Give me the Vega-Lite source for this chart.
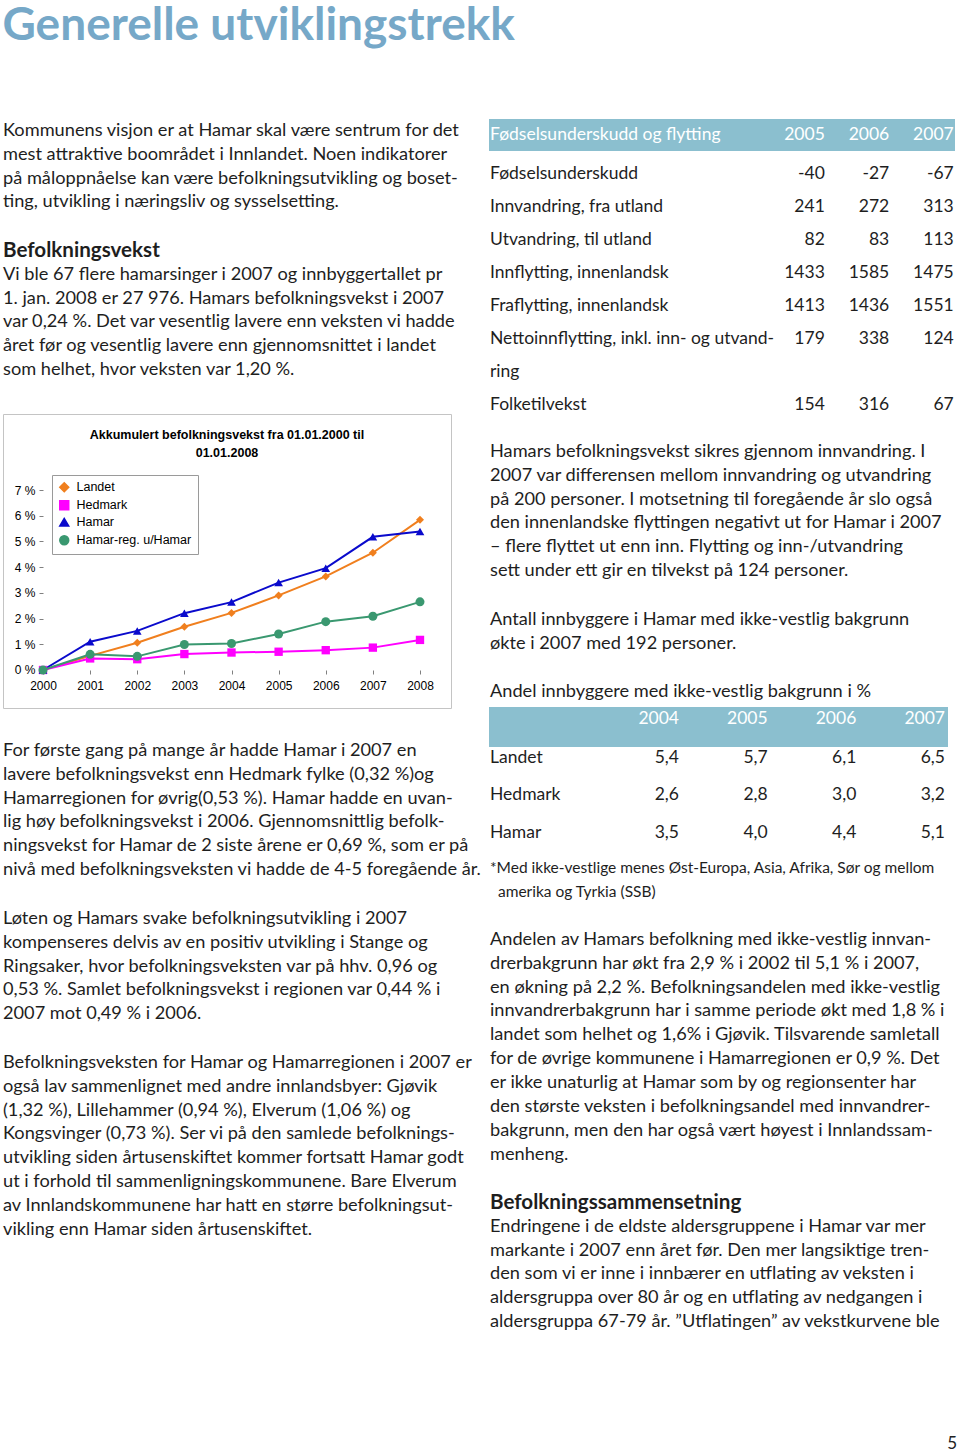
{
"$schema": "https://vega.github.io/schema/vega-lite/v6.json",
"padding": {"left": 2, "top": 3, "right": 0, "bottom": 0},
"background": "white",
"config": {
  "view": {"stroke": null},
  "text": {"font": "Lato", "fontSize": 18.2, "color": "#1E1E1E", "baseline": "middle", "align": "left"},
  "locale": {"number": {"decimal": ",", "thousands": " ", "grouping": [3], "currency": ["", " kr"], "minus": "-"}},
  "title": {"font": "Lato", "color": "#222222"}
},
"datasets": {
  "series": [
    {"year": 2000, "series": "Landet", "value": 0}, {"year": 2001, "series": "Landet", "value": 0.55}, {"year": 2002, "series": "Landet", "value": 1.06}, {"year": 2003, "series": "Landet", "value": 1.68}, {"year": 2004, "series": "Landet", "value": 2.22}, {"year": 2005, "series": "Landet", "value": 2.9}, {"year": 2006, "series": "Landet", "value": 3.64}, {"year": 2007, "series": "Landet", "value": 4.56}, {"year": 2008, "series": "Landet", "value": 5.84},
    {"year": 2000, "series": "Hedmark", "value": 0}, {"year": 2001, "series": "Hedmark", "value": 0.45}, {"year": 2002, "series": "Hedmark", "value": 0.42}, {"year": 2003, "series": "Hedmark", "value": 0.62}, {"year": 2004, "series": "Hedmark", "value": 0.68}, {"year": 2005, "series": "Hedmark", "value": 0.71}, {"year": 2006, "series": "Hedmark", "value": 0.77}, {"year": 2007, "series": "Hedmark", "value": 0.87}, {"year": 2008, "series": "Hedmark", "value": 1.17},
    {"year": 2000, "series": "Hamar", "value": 0}, {"year": 2001, "series": "Hamar", "value": 1.1}, {"year": 2002, "series": "Hamar", "value": 1.52}, {"year": 2003, "series": "Hamar", "value": 2.21}, {"year": 2004, "series": "Hamar", "value": 2.64}, {"year": 2005, "series": "Hamar", "value": 3.4}, {"year": 2006, "series": "Hamar", "value": 3.96}, {"year": 2007, "series": "Hamar", "value": 5.18}, {"year": 2008, "series": "Hamar", "value": 5.39},
    {"year": 2000, "series": "Hamar-reg. u/Hamar", "value": 0}, {"year": 2001, "series": "Hamar-reg. u/Hamar", "value": 0.61}, {"year": 2002, "series": "Hamar-reg. u/Hamar", "value": 0.53}, {"year": 2003, "series": "Hamar-reg. u/Hamar", "value": 0.99}, {"year": 2004, "series": "Hamar-reg. u/Hamar", "value": 1.03}, {"year": 2005, "series": "Hamar-reg. u/Hamar", "value": 1.4}, {"year": 2006, "series": "Hamar-reg. u/Hamar", "value": 1.88}, {"year": 2007, "series": "Hamar-reg. u/Hamar", "value": 2.09}, {"year": 2008, "series": "Hamar-reg. u/Hamar", "value": 2.65}
  ],
  "t1labels": [
    {"i": 0, "t": "Fødselsunderskudd"}, {"i": 1, "t": "Innvandring, fra utland"}, {"i": 2, "t": "Utvandring, til utland"}, {"i": 3, "t": "Innflytting, innenlandsk"}, {"i": 4, "t": "Fraflytting, innenlandsk"}, {"i": 5, "t": "Nettoinnflytting, inkl. inn- og utvand-"}, {"i": 6, "t": "ring"}, {"i": 7, "t": "Folketilvekst"}
  ],
  "t1values": [
    {"i": 0, "year": 2005, "v": -40}, {"i": 0, "year": 2006, "v": -27}, {"i": 0, "year": 2007, "v": -67},
    {"i": 1, "year": 2005, "v": 241}, {"i": 1, "year": 2006, "v": 272}, {"i": 1, "year": 2007, "v": 313},
    {"i": 2, "year": 2005, "v": 82}, {"i": 2, "year": 2006, "v": 83}, {"i": 2, "year": 2007, "v": 113},
    {"i": 3, "year": 2005, "v": 1433}, {"i": 3, "year": 2006, "v": 1585}, {"i": 3, "year": 2007, "v": 1475},
    {"i": 4, "year": 2005, "v": 1413}, {"i": 4, "year": 2006, "v": 1436}, {"i": 4, "year": 2007, "v": 1551},
    {"i": 5, "year": 2005, "v": 179}, {"i": 5, "year": 2006, "v": 338}, {"i": 5, "year": 2007, "v": 124},
    {"i": 7, "year": 2005, "v": 154}, {"i": 7, "year": 2006, "v": 316}, {"i": 7, "year": 2007, "v": 67}
  ],
  "t2labels": [{"i": 0, "t": "Landet"}, {"i": 1, "t": "Hedmark"}, {"i": 2, "t": "Hamar"}],
  "t2values": [
    {"i": 0, "year": 2004, "v": 5.4}, {"i": 0, "year": 2005, "v": 5.7}, {"i": 0, "year": 2006, "v": 6.1}, {"i": 0, "year": 2007, "v": 6.5},
    {"i": 1, "year": 2004, "v": 2.6}, {"i": 1, "year": 2005, "v": 2.8}, {"i": 1, "year": 2006, "v": 3.0}, {"i": 1, "year": 2007, "v": 3.2},
    {"i": 2, "year": 2004, "v": 3.5}, {"i": 2, "year": 2005, "v": 4.0}, {"i": 2, "year": 2006, "v": 4.4}, {"i": 2, "year": 2007, "v": 5.1}
  ]
},
"title": {"text": "Generelle utviklingstrekk", "anchor": "start", "fontSize": 46, "font": "Lato", "fontWeight": "bold", "color": "#76A8C8", "baseline": "top", "offset": 69},
"spacing": 7,
"hconcat": [
  {
    "spacing": 30,
    "resolve": {"legend": {"color": "independent", "shape": "independent"}},
    "vconcat": [
      {
        "spacing": 24,
        "vconcat": [
          {
            "width": 465, "height": 95.4,
            "data": {"values": [
              {"i": 0, "t": "Kommunens visjon er at Hamar skal være sentrum for det"},
              {"i": 1, "t": "mest attraktive boområdet i Innlandet. Noen indikatorer"},
              {"i": 2, "t": "på måloppnåelse kan være befolkningsutvikling og boset-"},
              {"i": 3, "t": "ting, utvikling i næringsliv og sysselsetting."}
            ]},
            "mark": {"type": "text"},
            "encoding": {"y": {"field": "i", "type": "ordinal", "axis": null}, "x": {"value": 0}, "text": {"field": "t"}}
          },
          {
            "width": 465, "height": 143.1,
            "layer": [
              {
                "data": {"values": [{"i": 0, "t": "Befolkningsvekst"}]},
                "mark": {"type": "text", "fontWeight": "bold", "fontSize": 20.6},
                "encoding": {"y": {"field": "i", "type": "ordinal", "axis": null}, "x": {"value": 0}, "text": {"field": "t"}}
              },
              {
                "data": {"values": [
                  {"i": 1, "t": "Vi ble 67 flere hamarsinger i 2007 og innbyggertallet pr"},
                  {"i": 2, "t": "1. jan. 2008 er 27 976. Hamars befolkningsvekst i 2007"},
                  {"i": 3, "t": "var 0,24 %. Det var vesentlig lavere enn veksten vi hadde"},
                  {"i": 4, "t": "året før og vesentlig lavere enn gjennomsnittet i landet"},
                  {"i": 5, "t": "som helhet, hvor veksten var 1,20 %."}
                ]},
                "mark": {"type": "text"},
                "encoding": {"y": {"field": "i", "type": "ordinal", "axis": null}, "x": {"value": 0}, "text": {"field": "t"}}
              }
            ]
          }
        ]
      },
      {
        "width": 448, "height": 294,
        "view": {"stroke": "#C4C4C4", "fill": "white"},
        "title": {"text": ["Akkumulert befolkningsvekst fra 01.01.2000 til", "01.01.2008"], "font": "Liberation Sans", "fontSize": 12.5, "fontWeight": "bold", "color": "#000000", "anchor": "middle", "offset": -45, "lineHeight": 18},
        "data": {"name": "series"},
        "encoding": {
          "x": {"field": "year", "type": "quantitative", "scale": {"domain": [1999.151, 2008.658], "nice": false, "zero": false},
                "axis": {"values": [2000, 2001, 2002, 2003, 2004, 2005, 2006, 2007, 2008], "format": "d", "offset": -38, "domain": false, "grid": false, "ticks": true, "tickSize": 4, "tickColor": "#808080", "labelFont": "Liberation Sans", "labelFontSize": 12, "labelColor": "#000000", "labelPadding": 6, "title": null, "labelFlush": false, "labelOverlap": false}},
          "y": {"field": "value", "type": "quantitative", "scale": {"domain": [-1.478, 9.956], "nice": false, "zero": false},
                "axis": {"values": [0, 1, 2, 3, 4, 5, 6, 7], "labelExpr": "datum.value + ' %'", "offset": -40, "domain": false, "grid": false, "ticks": true, "tickSize": 4, "tickColor": "#808080", "labelFont": "Liberation Sans", "labelFontSize": 12, "labelColor": "#000000", "labelPadding": 4, "title": null, "labelFlush": false, "labelOverlap": false}},
          "color": {"field": "series", "type": "nominal", "scale": {"domain": ["Landet", "Hedmark", "Hamar", "Hamar-reg. u/Hamar"], "range": ["#F07F1E", "#FF00FF", "#0A0ACC", "#3A9870"]},
            "legend": {"orient": "none", "legendX": 49, "legendY": 61, "title": null, "fillColor": "white", "strokeColor": "#9A9A9A", "padding": 6, "labelFont": "Liberation Sans", "labelFontSize": 12.5, "labelColor": "#000000", "symbolSize": 80, "rowPadding": 2, "labelOffset": 6}}
        },
        "layer": [
          {
            "data": {"values": [{"g": 1}, {"g": 2}, {"g": 3}, {"g": 4}, {"g": 5}, {"g": 6}, {"g": 7}]},
            "mark": {"type": "rule", "strokeWidth": 1},
            "encoding": {"y": {"field": "g", "type": "quantitative"}, "x": {"datum": 2000}, "x2": {"datum": 2008}, "color": {"value": "#D6D6D6"}}
          },
          {
            "data": {"values": [{}]},
            "mark": {"type": "rule", "strokeWidth": 1},
            "encoding": {"x": {"datum": 2008}, "y": {"datum": 0}, "y2": {"datum": 7}, "color": {"value": "#B0B0B0"}}
          },
          {
            "data": {"values": [{}]},
            "mark": {"type": "rule", "strokeWidth": 1},
            "encoding": {"x": {"datum": 2000}, "y": {"datum": 0}, "y2": {"datum": 7}, "color": {"value": "#808080"}}
          },
          {
            "data": {"values": [{}]},
            "mark": {"type": "rule", "strokeWidth": 1},
            "encoding": {"y": {"datum": 0}, "x": {"datum": 2000}, "x2": {"datum": 2008}, "color": {"value": "#808080"}}
          },
          {
            "mark": {"type": "line"},
            "encoding": {
              "strokeWidth": {"field": "series", "type": "nominal", "scale": {"domain": ["Landet", "Hedmark", "Hamar", "Hamar-reg. u/Hamar"], "range": [2, 2, 3.8, 2]}, "legend": null}
            }
          },
          {
            "mark": {"type": "point", "filled": true, "opacity": 1},
            "encoding": {
              "shape": {"field": "series", "type": "nominal", "scale": {"domain": ["Landet", "Hedmark", "Hamar", "Hamar-reg. u/Hamar"], "range": ["diamond", "square", "triangle-up", "circle"]}, "legend": null},
              "size": {"field": "series", "type": "nominal", "scale": {"domain": ["Landet", "Hedmark", "Hamar", "Hamar-reg. u/Hamar"], "range": [64, 81, 150, 85]}, "legend": null}
            }
          }
        ]
      },
      {
        "spacing": 24,
        "vconcat": [
          {
            "width": 465, "height": 143.1,
            "data": {"values": [
              {"i": 0, "t": "For første gang på mange år hadde Hamar i 2007 en"},
              {"i": 1, "t": "lavere befolkningsvekst enn Hedmark fylke (0,32 %)og"},
              {"i": 2, "t": "Hamarregionen for øvrig(0,53 %). Hamar hadde en uvan-"},
              {"i": 3, "t": "lig høy befolkningsvekst i 2006. Gjennomsnittlig befolk-"},
              {"i": 4, "t": "ningsvekst for Hamar de 2 siste årene er 0,69 %, som er på"},
              {"i": 5, "t": "nivå med befolkningsveksten vi hadde de 4-5 foregående år."}
            ]},
            "mark": {"type": "text"},
            "encoding": {"y": {"field": "i", "type": "ordinal", "axis": null}, "x": {"value": 0}, "text": {"field": "t"}}
          },
          {
            "width": 465, "height": 119.25,
            "data": {"values": [
              {"i": 0, "t": "Løten og Hamars svake befolkningsutvikling i 2007"},
              {"i": 1, "t": "kompenseres delvis av en positiv utvikling i Stange og"},
              {"i": 2, "t": "Ringsaker, hvor befolkningsveksten var på hhv. 0,96 og"},
              {"i": 3, "t": "0,53 %. Samlet befolkningsvekst i regionen var 0,44 % i"},
              {"i": 4, "t": "2007 mot 0,49 % i 2006."}
            ]},
            "mark": {"type": "text"},
            "encoding": {"y": {"field": "i", "type": "ordinal", "axis": null}, "x": {"value": 0}, "text": {"field": "t"}}
          },
          {
            "width": 465, "height": 190.8,
            "data": {"values": [
              {"i": 0, "t": "Befolkningsveksten for Hamar og Hamarregionen i 2007 er"},
              {"i": 1, "t": "også lav sammenlignet med andre innlandsbyer: Gjøvik"},
              {"i": 2, "t": "(1,32 %), Lillehammer (0,94 %), Elverum (1,06 %) og"},
              {"i": 3, "t": "Kongsvinger (0,73 %). Ser vi på den samlede befolknings-"},
              {"i": 4, "t": "utvikling siden årtusenskiftet kommer fortsatt Hamar godt"},
              {"i": 5, "t": "ut i forhold til sammenligningskommunene. Bare Elverum"},
              {"i": 6, "t": "av Innlandskommunene har hatt en større befolkningsut-"},
              {"i": 7, "t": "vikling enn Hamar siden årtusenskiftet."}
            ]},
            "mark": {"type": "text"},
            "encoding": {"y": {"field": "i", "type": "ordinal", "axis": null}, "x": {"value": 0}, "text": {"field": "t"}}
          }
        ]
      }
    ]
  },
  {
    "spacing": 24,
    "title": {"text": "5", "orient": "bottom", "anchor": "end", "offset": 102, "fontSize": 17, "fontWeight": "normal", "font": "Lato", "color": "#222222"},
    "vconcat": [
      {
        "spacing": 3,
        "vconcat": [
          {
            "width": 466, "height": 32,
            "view": {"fill": "#8BBFCF", "stroke": null},
            "layer": [
              {
                "data": {"values": [{"t": "Fødselsunderskudd og flytting"}]},
                "mark": {"type": "text", "color": "white", "fontSize": 17.5},
                "encoding": {"x": {"value": 1}, "text": {"field": "t"}}
              },
              {
                "data": {"values": [{"year": 2005}, {"year": 2006}, {"year": 2007}]},
                "mark": {"type": "text", "color": "white", "align": "right", "fontSize": 17.5},
                "encoding": {"x": {"field": "year", "type": "quantitative", "scale": {"domain": [1999.79, 2007.02], "nice": false, "zero": false}, "axis": null}, "text": {"field": "year", "type": "quantitative", "format": "d"}}
              }
            ]
          },
          {
            "width": 466, "height": 262,
            "layer": [
              {
                "data": {"name": "t1labels"},
                "mark": {"type": "text", "fontSize": 17.5},
                "encoding": {"y": {"field": "i", "type": "ordinal", "axis": null, "scale": {"padding": 0.47, "align": 0.645}}, "x": {"value": 1}, "text": {"field": "t"}}
              },
              {
                "data": {"name": "t1values"},
                "mark": {"type": "text", "align": "right", "fontSize": 17.5},
                "encoding": {"y": {"field": "i", "type": "ordinal", "axis": null}, "x": {"field": "year", "type": "quantitative", "scale": {"domain": [1999.79, 2007.02], "nice": false, "zero": false}, "axis": null}, "text": {"field": "v", "type": "quantitative", "format": "d"}}
              }
            ]
          }
        ]
      },
      {
        "width": 468, "height": 143.1,
        "data": {"values": [
          {"i": 0, "t": "Hamars befolkningsvekst sikres gjennom innvandring. I"},
          {"i": 1, "t": "2007 var differensen mellom innvandring og utvandring"},
          {"i": 2, "t": "på 200 personer. I motsetning til foregående år slo også"},
          {"i": 3, "t": "den innenlandske flyttingen negativt ut for Hamar i 2007"},
          {"i": 4, "t": "– flere flyttet ut enn inn. Flytting og inn-/utvandring"},
          {"i": 5, "t": "sett under ett gir en tilvekst på 124 personer."}
        ]},
        "mark": {"type": "text"},
        "encoding": {"y": {"field": "i", "type": "ordinal", "axis": null}, "x": {"value": 1}, "text": {"field": "t"}}
      },
      {
        "width": 468, "height": 47.7,
        "data": {"values": [
          {"i": 0, "t": "Antall innbyggere i Hamar med ikke-vestlig bakgrunn"},
          {"i": 1, "t": "økte i 2007 med 192 personer."}
        ]},
        "mark": {"type": "text"},
        "encoding": {"y": {"field": "i", "type": "ordinal", "axis": null}, "x": {"value": 1}, "text": {"field": "t"}}
      },
      {
        "spacing": 0,
        "vconcat": [
          {
            "width": 459, "height": 27,
            "data": {"values": [{"i": 0, "t": "Andel innbyggere med ikke-vestlig bakgrunn i %"}]},
            "mark": {"type": "text"},
            "encoding": {"y": {"field": "i", "type": "ordinal", "axis": null, "scale": {"align": 0.444}}, "x": {"value": 1}, "text": {"field": "t"}}
          },
          {
            "width": 459, "height": 40,
            "view": {"fill": "#8BBFCF", "stroke": null},
            "data": {"values": [{"i": 0, "year": 2004}, {"i": 0, "year": 2005}, {"i": 0, "year": 2006}, {"i": 0, "year": 2007}]},
            "mark": {"type": "text", "color": "white", "align": "right", "fontSize": 17.5},
            "encoding": {"y": {"field": "i", "type": "ordinal", "axis": null, "scale": {"align": 0.3}}, "x": {"field": "year", "type": "quantitative", "scale": {"domain": [2001.857, 2007.034], "nice": false, "zero": false}, "axis": null}, "text": {"field": "year", "type": "quantitative", "format": "d"}}
          },
          {
            "width": 459, "height": 109,
            "layer": [
              {
                "data": {"name": "t2labels"},
                "mark": {"type": "text", "fontSize": 17.5},
                "encoding": {"y": {"field": "i", "type": "ordinal", "axis": null, "scale": {"padding": 0.453, "align": 0.32}}, "x": {"value": 1}, "text": {"field": "t"}}
              },
              {
                "data": {"name": "t2values"},
                "mark": {"type": "text", "align": "right", "fontSize": 17.5},
                "encoding": {"y": {"field": "i", "type": "ordinal", "axis": null}, "x": {"field": "year", "type": "quantitative", "scale": {"domain": [2001.857, 2007.034], "nice": false, "zero": false}, "axis": null}, "text": {"field": "v", "type": "quantitative", "format": ".1f"}}
              }
            ]
          },
          {
            "width": 468, "height": 48,
            "data": {"values": [
              {"i": 0, "t": "*Med ikke-vestlige menes Øst-Europa, Asia, Afrika, Sør og mellom"},
              {"i": 1, "t": "\u200b\u00a0\u00a0amerika og Tyrkia (SSB)"}
            ]},
            "mark": {"type": "text", "fontSize": 15.5},
            "encoding": {"y": {"field": "i", "type": "ordinal", "axis": null}, "x": {"value": 1}, "text": {"field": "t"}}
          }
        ]
      },
      {
        "width": 468, "height": 238.5,
        "data": {"values": [
          {"i": 0, "t": "Andelen av Hamars befolkning med ikke-vestlig innvan-"},
          {"i": 1, "t": "drerbakgrunn har økt fra 2,9 % i 2002 til 5,1 % i 2007,"},
          {"i": 2, "t": "en økning på 2,2 %.  Befolkningsandelen med ikke-vestlig"},
          {"i": 3, "t": "innvandrerbakgrunn har i samme periode økt med 1,8 % i"},
          {"i": 4, "t": "landet som helhet og 1,6% i Gjøvik. Tilsvarende samletall"},
          {"i": 5, "t": "for de øvrige kommunene i Hamarregionen er 0,9 %. Det"},
          {"i": 6, "t": "er ikke unaturlig at Hamar som by og regionsenter har"},
          {"i": 7, "t": "den største veksten i befolkningsandel med innvandrer-"},
          {"i": 8, "t": "bakgrunn, men den har også vært høyest i Innlandssam-"},
          {"i": 9, "t": "menheng."}
        ]},
        "mark": {"type": "text"},
        "encoding": {"y": {"field": "i", "type": "ordinal", "axis": null}, "x": {"value": 1}, "text": {"field": "t"}}
      },
      {
        "width": 468, "height": 143.1,
        "layer": [
          {
            "data": {"values": [{"i": 0, "t": "Befolkningssammensetning"}]},
            "mark": {"type": "text", "fontWeight": "bold", "fontSize": 20.6},
            "encoding": {"y": {"field": "i", "type": "ordinal", "axis": null}, "x": {"value": 1}, "text": {"field": "t"}}
          },
          {
            "data": {"values": [
              {"i": 1, "t": "Endringene i de eldste aldersgruppene i Hamar var mer"},
              {"i": 2, "t": "markante i 2007 enn året før. Den mer langsiktige tren-"},
              {"i": 3, "t": "den som vi er inne i innbærer en utflating av veksten i"},
              {"i": 4, "t": "aldersgruppa over 80 år og en utflating av nedgangen i"},
              {"i": 5, "t": "aldersgruppa 67-79 år. ”Utflatingen” av vekstkurvene ble"}
            ]},
            "mark": {"type": "text"},
            "encoding": {"y": {"field": "i", "type": "ordinal", "axis": null}, "x": {"value": 1}, "text": {"field": "t"}}
          }
        ]
      }
    ]
  }
]
}
